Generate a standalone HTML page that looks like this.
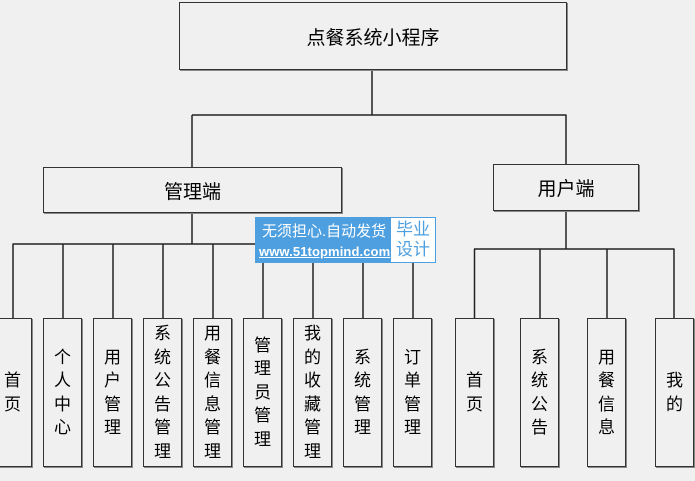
<!DOCTYPE html>
<html><head><meta charset="utf-8"><style>
html,body{margin:0;padding:0;}
body{width:695px;height:481px;background:#f0f0f0;position:relative;overflow:hidden;font-family:"Liberation Sans","Noto Sans CJK SC","WenQuanYi Zen Hei",sans-serif;color:#000;}
.b{position:absolute;box-sizing:border-box;border:1px solid #333;box-shadow:1px 1px 0 #888;background:#f0f0f0;display:flex;align-items:center;justify-content:center;text-align:center;}
.h{font-size:19px;}
.v{top:318px;height:149px;width:39px;font-size:17px;line-height:23.5px;}
.v span{display:block;width:18px;word-break:break-all;}
svg{position:absolute;left:0;top:0;}
.wm{position:absolute;left:255px;top:217px;width:181px;height:46px;background:#4d9fe0;}
.wm .t1{position:absolute;left:7px;top:3px;color:#fff;font-size:15px;white-space:nowrap;}
.wm .t2{position:absolute;left:4px;top:27px;color:#fff;font-size:13px;text-decoration:underline;white-space:nowrap;font-weight:bold;letter-spacing:0.1px;}
.wm .w{position:absolute;left:136px;top:1px;width:44px;height:44px;background:#fff;color:#4d9fe0;font-size:17px;line-height:20px;text-align:center;padding-top:2px;box-sizing:border-box;}
</style></head><body>
<svg width="695" height="481">
<g stroke="#222" stroke-width="1.5" fill="none">
<line x1="372" y1="69" x2="372" y2="115"/>
<line x1="192" y1="115" x2="566.5" y2="115"/>
<line x1="192" y1="115" x2="192" y2="167"/>
<line x1="566" y1="115" x2="566" y2="164"/>
<line x1="192" y1="212" x2="192" y2="244"/>
<line x1="12.5" y1="244" x2="413" y2="244"/>
<line x1="13" y1="244" x2="13" y2="318"/>
<line x1="63" y1="244" x2="63" y2="318"/>
<line x1="113" y1="244" x2="113" y2="318"/>
<line x1="163" y1="244" x2="163" y2="318"/>
<line x1="213" y1="244" x2="213" y2="318"/>
<line x1="263" y1="244" x2="263" y2="318"/>
<line x1="313" y1="244" x2="313" y2="318"/>
<line x1="363" y1="244" x2="363" y2="318"/>
<line x1="413" y1="244" x2="413" y2="318"/>
<line x1="566" y1="210" x2="566" y2="249"/>
<line x1="474" y1="249" x2="674.5" y2="249"/>
<line x1="474.5" y1="249" x2="474.5" y2="318"/>
<line x1="540" y1="249" x2="540" y2="318"/>
<line x1="607" y1="249" x2="607" y2="318"/>
<line x1="674" y1="249" x2="674" y2="318"/>
</g>
</svg>
<div class="b h" style="left:179px;top:2px;width:388px;height:68px;">点餐系统小程序</div>
<div class="b h" style="left:43px;top:167px;width:299px;height:46px;">管理端</div>
<div class="b h" style="left:493px;top:164px;width:146px;height:47px;">用户端</div>

<div class="b v" style="left:-7px;"><span>首页</span></div>
<div class="b v" style="left:43px;"><span>个人中心</span></div>
<div class="b v" style="left:93px;"><span>用户管理</span></div>
<div class="b v" style="left:143px;"><span>系统公告管理</span></div>
<div class="b v" style="left:193px;"><span>用餐信息管理</span></div>
<div class="b v" style="left:243px;"><span>管理员管理</span></div>
<div class="b v" style="left:293px;"><span>我的收藏管理</span></div>
<div class="b v" style="left:343px;"><span>系统管理</span></div>
<div class="b v" style="left:393px;"><span>订单管理</span></div>

<div class="b v" style="left:455px;"><span>首页</span></div>
<div class="b v" style="left:520px;"><span>系统公告</span></div>
<div class="b v" style="left:587px;"><span>用餐信息</span></div>
<div class="b v" style="left:655px;"><span>我的</span></div>

<div class="wm">
<div class="t1">无须担心.自动发货</div>
<div class="t2">www.51topmind.com</div>
<div class="w">毕业<br>设计</div>
</div>
</body></html>
